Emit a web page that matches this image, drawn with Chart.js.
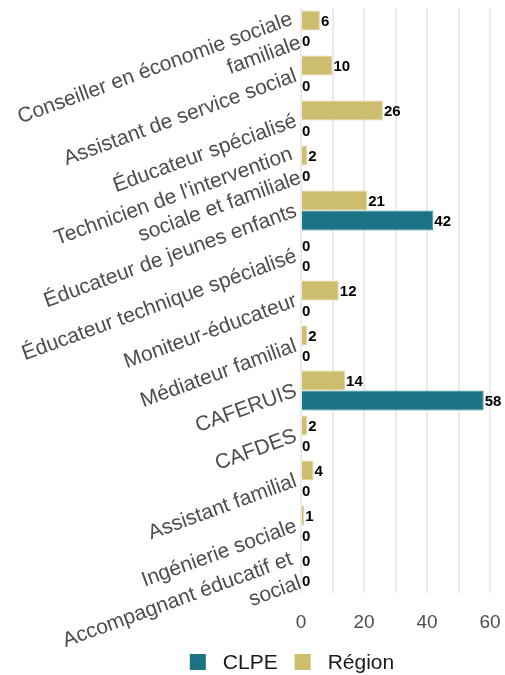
<!DOCTYPE html>
<html>
<head>
<meta charset="utf-8">
<script src="https://cdn.jsdelivr.net/npm/chart.js@4.4.1/dist/chart.umd.min.js"></script>
<style>
  html, body { margin: 0; padding: 0; background: #fff; }
  #wrap { width: 505px; height: 675px; }
</style>
</head>
<body>
<div id="wrap"><canvas id="formations"></canvas></div>
<script>
// Formations : effectifs CLPE vs Région
const categories = [
  ['Conseiller en économie sociale', 'familiale'],
  'Assistant de service social',
  'Éducateur spécialisé',
  ["Technicien de l'intervention", 'sociale et familiale'],
  'Éducateur de jeunes enfants',
  'Éducateur technique spécialisé',
  'Moniteur-éducateur',
  'Médiateur familial',
  'CAFERUIS',
  'CAFDES',
  'Assistant familial',
  'Ingénierie sociale',
  ['Accompagnant éducatif et', 'social']
];
const regionValues = [6, 10, 26, 2, 21, 0, 12, 2, 14, 2, 4, 1, 0];
const clpeValues = [0, 0, 0, 0, 42, 0, 0, 0, 58, 0, 0, 0, 0];
const xTickLabels = [0, 20, 40, 60];

const GOLD = '#CDBD6F';
const TEAL = '#1C7385';
const FONT = '"Liberation Sans", Arial, sans-serif';

// value printed just past the end of each bar
const valueLabels = {
  id: 'valueLabels',
  afterDatasetsDraw(chart) {
    const ctx = chart.ctx;
    ctx.save();
    ctx.font = 'bold 15px ' + FONT;
    ctx.fillStyle = '#000';
    ctx.textAlign = 'left';
    ctx.textBaseline = 'middle';
    chart.data.datasets.forEach((ds, i) => {
      chart.getDatasetMeta(i).data.forEach((bar, j) => {
        ctx.fillText(String(ds.data[j]), bar.x + 1, bar.y + 1);
      });
    });
    ctx.restore();
  }
};

// legend drawn under the axis, CLPE first
const bottomLegend = {
  id: 'bottomLegend',
  afterDraw(chart) {
    const ctx = chart.ctx;
    const items = chart.data.datasets.slice().reverse();
    const box = 16, gap = 17, cy = 662, centerX = 292;
    ctx.save();
    ctx.font = '21px ' + FONT;
    ctx.textBaseline = 'middle';
    let total = 0;
    items.forEach((ds, i) => {
      total += box + gap + ctx.measureText(ds.label).width + (i < items.length - 1 ? gap : 0);
    });
    let x = centerX - total / 2;
    items.forEach(ds => {
      ctx.fillStyle = ds.backgroundColor;
      ctx.fillRect(x, cy - box / 2, box, box);
      x += box + gap;
      ctx.fillStyle = '#1a1a1a';
      ctx.fillText(ds.label, x, cy + 1);
      x += ctx.measureText(ds.label).width + gap;
    });
    ctx.restore();
  }
};

new Chart(document.getElementById('formations'), {
  type: 'bar',
  data: {
    labels: categories,
    datasets: [
      {
        label: 'Région',
        data: regionValues,
        backgroundColor: GOLD,
        borderColor: '#E3D69E',
        borderWidth: 1,
        categoryPercentage: 0.89,
        barPercentage: 1
      },
      {
        label: 'CLPE',
        data: clpeValues,
        backgroundColor: TEAL,
        borderColor: '#3E8E9E',
        borderWidth: 1,
        categoryPercentage: 0.89,
        barPercentage: 1
      }
    ]
  },
  options: {
    indexAxis: 'y',
    responsive: true,
    maintainAspectRatio: false,
    animation: false,
    layout: {
      padding: { top: 8, right: 15, bottom: 42, left: 0 }
    },
    plugins: {
      legend: { display: false },
      tooltip: { enabled: false }
    },
    scales: {
      x: {
        min: 0,
        max: 60,
        border: { display: false },
        grid: { color: '#EBEBEB', lineWidth: 2, drawTicks: false },
        ticks: {
          stepSize: 10,
          padding: 18,
          color: '#4d4d4d',
          font: { family: FONT, size: 19 },
          callback: v => xTickLabels.includes(v) ? v : ''
        },
        afterFit(scale) {
          scale.height = 40;
          scale.paddingLeft = 0;
          scale.paddingRight = 0;
        }
      },
      y: {
        border: { display: false },
        grid: { display: false, drawTicks: false },
        ticks: {
          autoSkip: false,
          minRotation: 20,
          maxRotation: 20,
          padding: 5,
          color: '#4d4d4d',
          font: { family: FONT, size: 21 }
        },
        afterFit(scale) {
          scale.width = 301;
          scale.paddingTop = 0;
          scale.paddingBottom = 0;
        }
      }
    }
  },
  plugins: [valueLabels, bottomLegend]
});
</script>
</body>
</html>
